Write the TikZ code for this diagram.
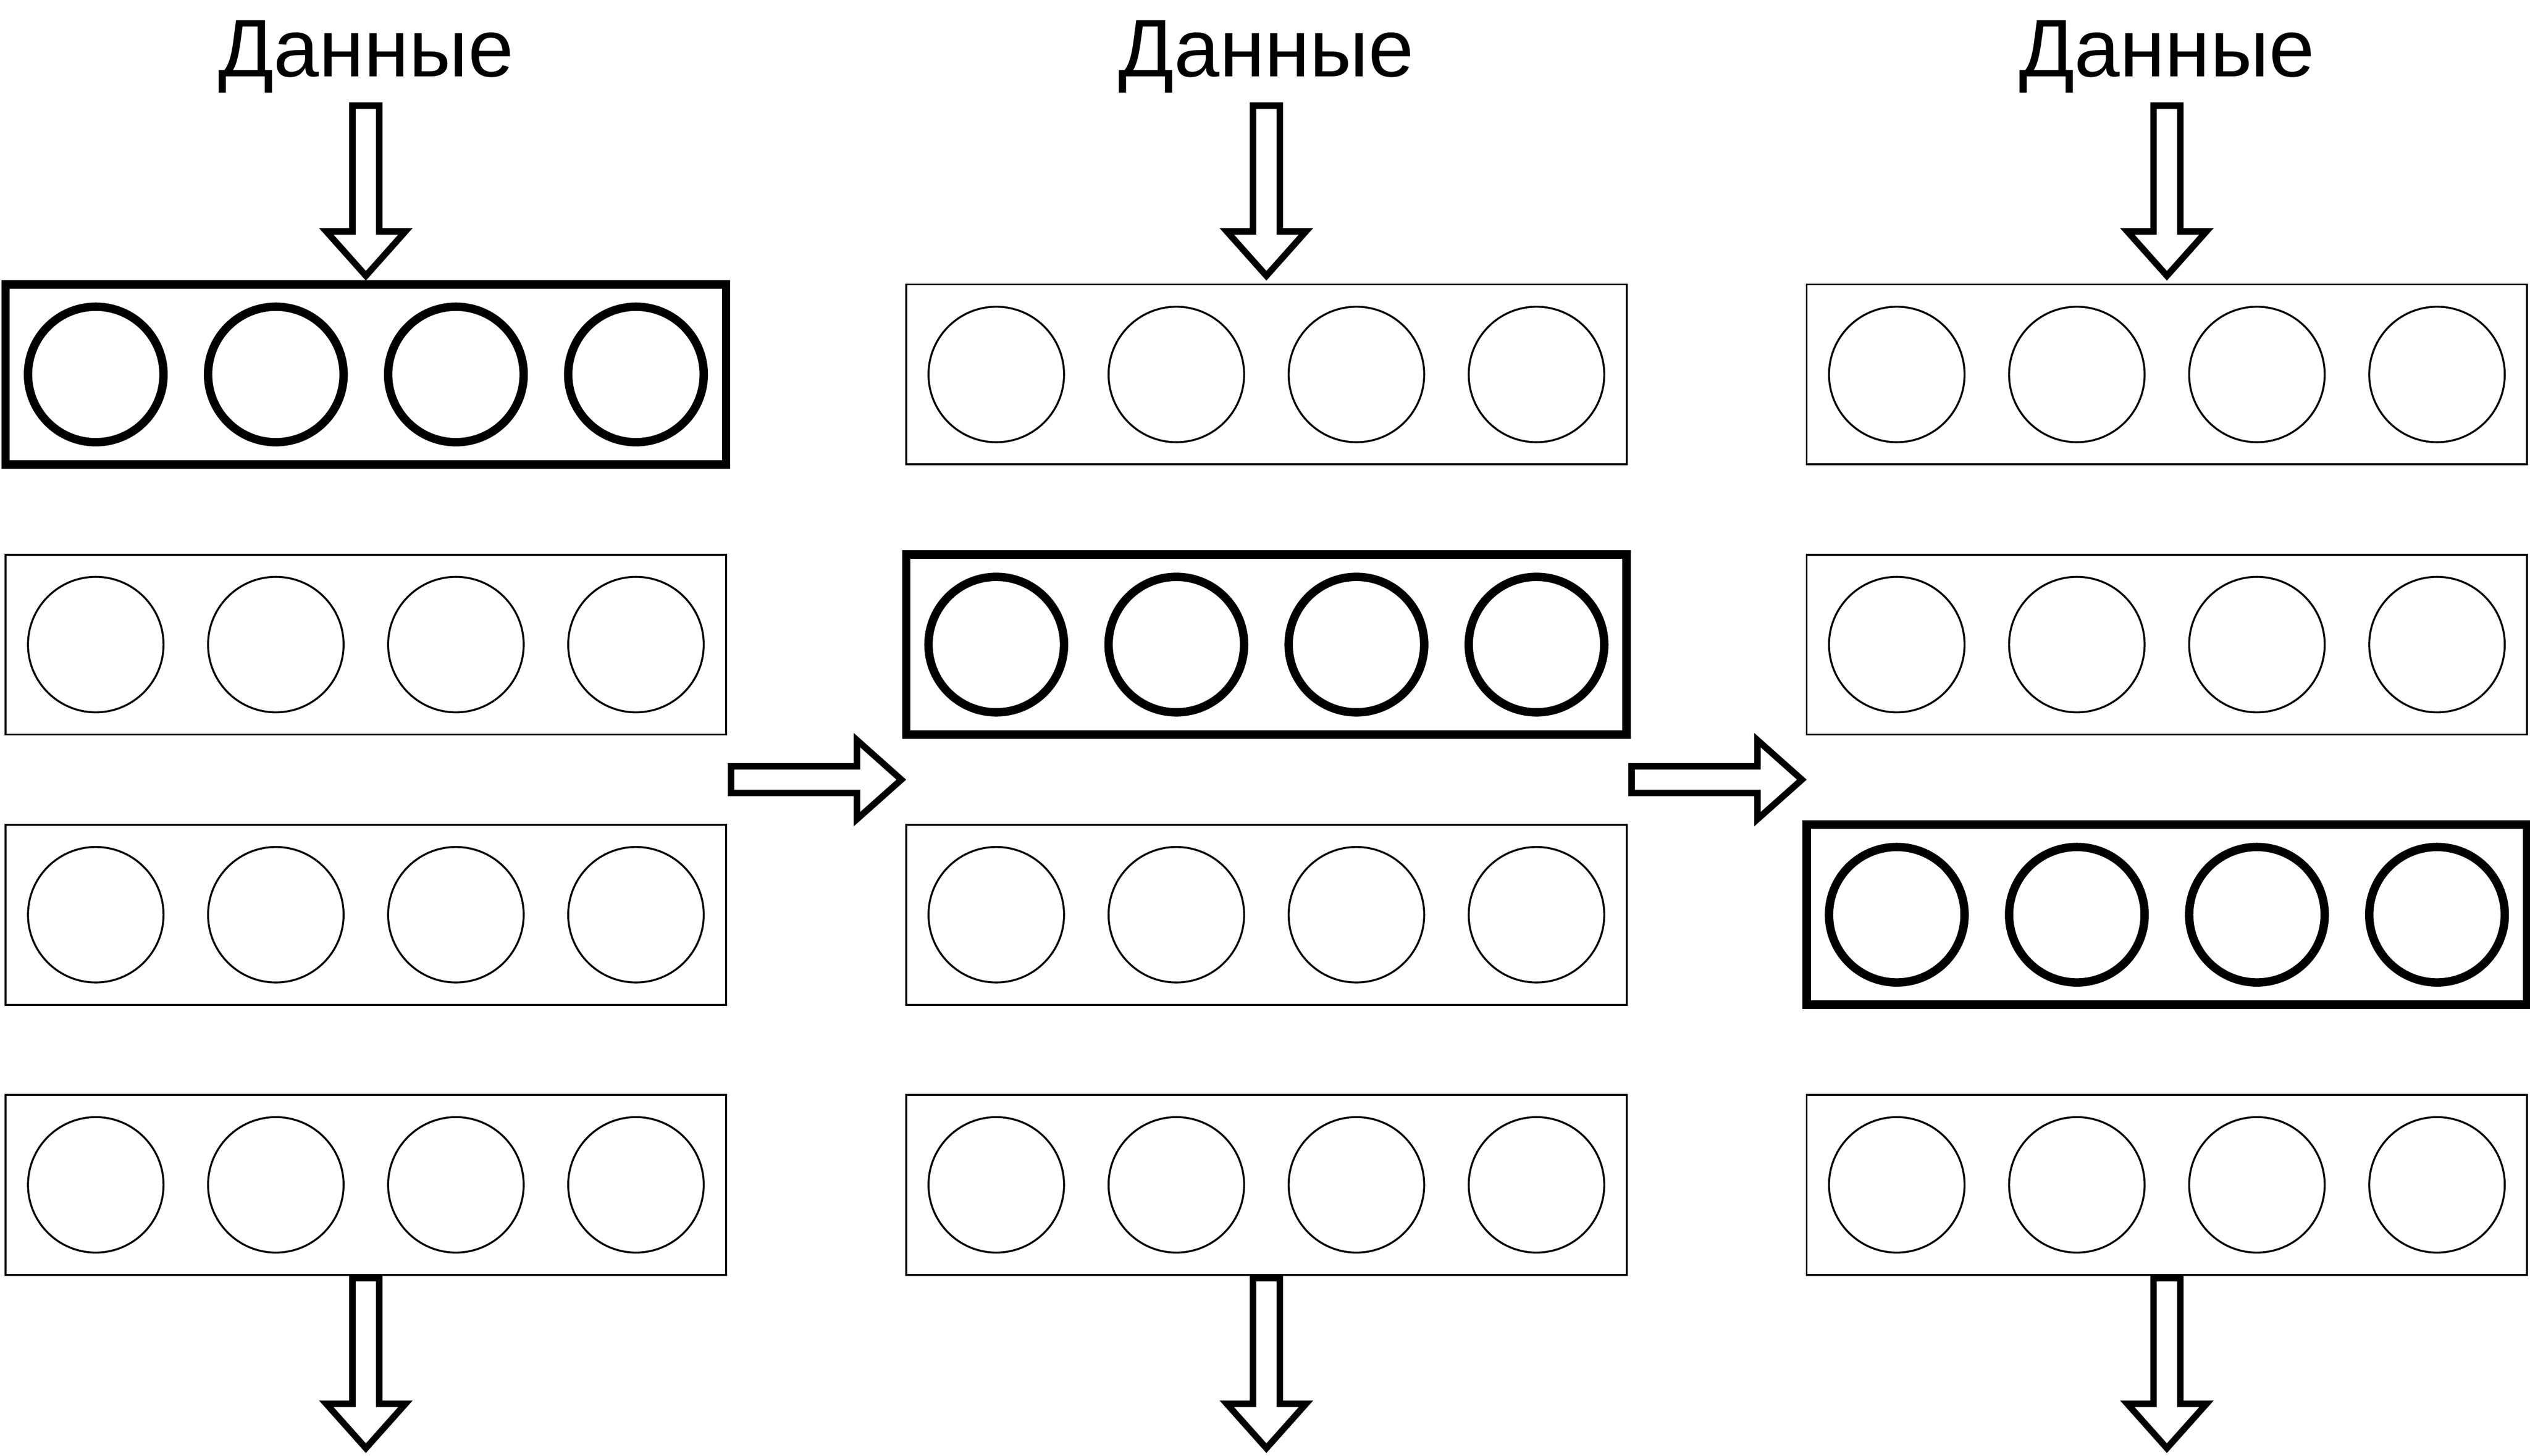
\documentclass[tikz,border=0pt]{standalone}
\usepackage{fontspec}
\setmainfont{Liberation Sans}
\usetikzlibrary{calc}
\tikzset{
  layerbox/.style={draw, rectangle, minimum width=446.5pt, minimum height=111.6pt, inner sep=0pt, outer sep=0pt},
  neuron/.style={draw, circle, minimum size=84pt, inner sep=0pt, outer sep=0pt},
  datatext/.style={font=\fontsize{50.7}{60}\selectfont, inner sep=0pt, anchor=base},
  blockarrow/.style={draw, line width=4pt, miter limit=10, fill=white},
  pics/fatarrow/.style={code={
    \draw[blockarrow] (0,0) -- (-27.5,24.5) -- (-27.5,8.3) -- (-105.5,8.3) -- (-105.5,-8.3) -- (-27.5,-8.3) -- (-27.5,-24.5) -- cycle;
  }}
}
\begin{document}
\begin{tikzpicture}[x=1pt,y=-1pt]
\useasboundingbox (0,0) rectangle (1568,902.6);
\foreach \c in {0,1,2}{
  \node[datatext] (t-\c) at (226.75+558.1*\c, 47.4) {Данные};
  \foreach \r in {0,1,2,3}{
    \pgfmathsetmacro{\lw}{ifthenelse(\c==\r,5.2,1.2)}
    \node[layerbox, line width=\lw pt] (b-\c-\r) at (226.75+558.1*\c, 232.2+167.5*\r) {};
    \foreach \i in {0,1,2,3}{
      \node[neuron, line width=\lw pt] (n-\c-\r-\i) at ($(b-\c-\r.center)+(-167.4+111.6*\i,0)$) {};
    }
  }
  \coordinate (tipin-\c) at ($(b-\c-0.north)+(0,-5.4)$);
  \coordinate (tipout-\c) at ($(b-\c-3.south)+(0,107.5)$);
  \pic[rotate=-90] at (tipin-\c) {fatarrow};
  \pic[rotate=-90] at (tipout-\c) {fatarrow};
}
\coordinate (tipright-1) at ($($(b-1-1.west)!0.5!(b-1-2.west)$)+(-3,0)$);
\coordinate (tipright-2) at ($($(b-2-1.west)!0.5!(b-2-2.west)$)+(-3,0)$);
\pic at (tipright-1) {fatarrow};
\pic at (tipright-2) {fatarrow};
\end{tikzpicture}
\end{document}
